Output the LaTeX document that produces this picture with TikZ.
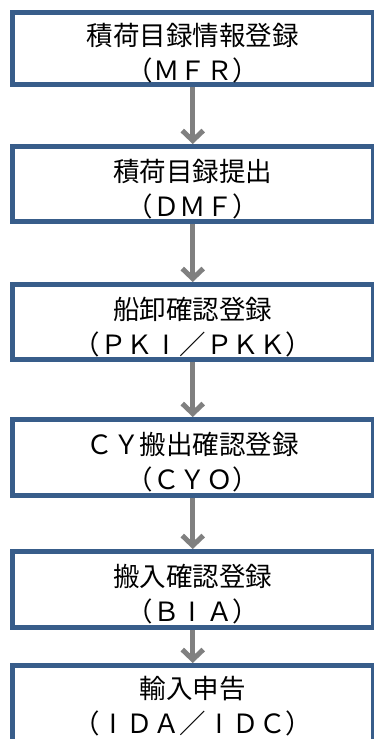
\documentclass[tikz,border=0pt]{standalone}
\usepackage{fontspec}
\newfontfamily\jpfont{Noto Sans CJK JP}
\usetikzlibrary{arrows.meta}
\definecolor{boxblue}{RGB}{56,93,138}
\definecolor{arrgray}{RGB}{128,128,128}
\newcommand{\fwbarI}{\makebox[1em][c]{I}}
\tikzset{
  flowbox/.style={draw=boxblue, line width=5pt, fill=white, rectangle,
    minimum width=360.5pt, inner sep=0pt},
  flowtext/.style={font=\jpfont\fontsize{26.5pt}{35pt}\selectfont, align=center,
    inner sep=0pt, text=black},
  flowarrow/.style={draw=arrgray, line width=5pt,
    -{Straight Barb[length=10pt,width=21pt]}}
}
\begin{document}
\begin{tikzpicture}[x=1pt,y=1pt]
\clip (0,0) rectangle (374,-739);
\fill[white] (0,0) rectangle (374,-739);
\node[flowbox, minimum height=72pt] (b1) at (192.75,-48.5) {};
\node[flowbox, minimum height=75pt] (b2) at (192.75,-184) {};
\node[flowbox, minimum height=75pt] (b3) at (192.75,-322) {};
\node[flowbox, minimum height=76pt] (b4) at (192.75,-457.5) {};
\node[flowbox, minimum height=76pt] (b5) at (192.75,-589.5) {};
\node[flowbox, minimum height=100pt] (b6) at (192.75,-715.5) {};
\node[flowtext] (t1) at ([yshift=-5pt]b1.center) {積荷目録情報登録\\（ＭＦＲ）};
\node[flowtext] (t2) at ([yshift=-5pt]b2.center) {積荷目録提出\\（ＤＭＦ）};
\node[flowtext] (t3) at ([yshift=-5pt]b3.center) {船卸確認登録\\（ＰＫ\fwbarI／ＰＫＫ）};
\node[flowtext] (t4) at ([yshift=-5pt]b4.center) {ＣＹ搬出確認登録\\（ＣＹＯ）};
\node[flowtext] (t5) at ([yshift=-5pt]b5.center) {搬入確認登録\\（Ｂ\fwbarI Ａ）};
\node[flowtext] (t6) at ([yshift=-43.5pt]b6.north) {輸入申告\\（\fwbarI ＤＡ／\fwbarI ＤＣ）};
\draw[flowarrow] (b1.south) -- (b2.north);
\draw[flowarrow] (b2.south) -- (b3.north);
\draw[flowarrow] (b3.south) -- (b4.north);
\draw[flowarrow] (b4.south) -- (b5.north);
\draw[flowarrow] (b5.south) -- (b6.north);
\end{tikzpicture}
\end{document}
